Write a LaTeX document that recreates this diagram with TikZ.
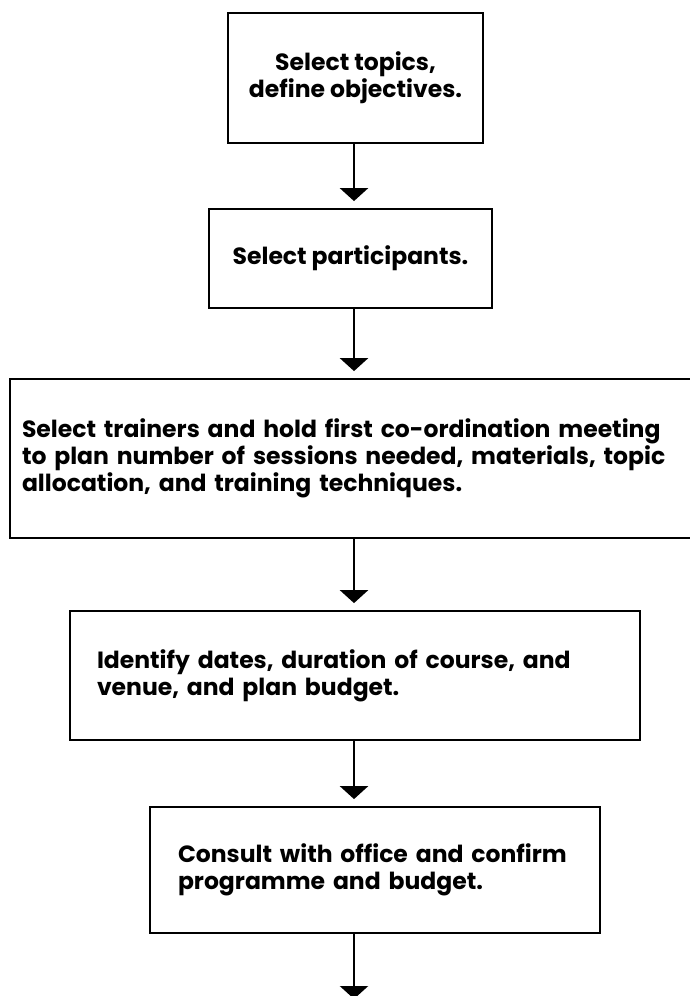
\documentclass[tikz,border=0pt]{standalone}
\usepackage{fontspec}
\setmainfont{Poppins}
\usetikzlibrary{positioning, arrows.meta}
\tikzset{>={Triangle[width=28pt,length=13pt]}, node distance=2cm}

\begin{document}
\begin{tikzpicture}[x=1pt, y=-1pt,
  stepbox/.style={rectangle, draw=black, line width=1.8pt, inner sep=0pt, font=\bfseries\fontsize{23.5}{27}\selectfont},
  flow/.style={->, line width=2.6pt, shorten >=7pt}]
    \useasboundingbox (0,0) rectangle (689,996);
    \coordinate (spine) at (354,0);

    \node[stepbox, minimum width=255pt, minimum height=130pt, align=center] (topics) at (355.5,78) {Select topics,\\define objectives.};
    \node[stepbox, minimum width=283pt, minimum height=99pt, align=center] (participants) at (350.5,258.5) {Select participants.};
    \node[stepbox, minimum width=695pt, minimum height=159pt, text width=671pt, align=left] (trainers) at (357.5,458.5) {Select trainers and hold first co-ordination meeting\\to plan number of sessions needed, materials, topic\\allocation, and training techniques.};
    \node[stepbox, minimum width=570pt, minimum height=129pt, text width=516pt, align=left] (dates) at (355,675.5) {Identify dates, duration of course, and\\venue, and plan budget.};
    \node[stepbox, minimum width=450pt, minimum height=126pt, text width=394pt, align=left] (consult) at (375,870) {Consult with office and confirm\\programme and budget.};
    \coordinate (end) at (354,999);

    \draw[flow] (topics.south -| spine) -- (participants.north -| spine);
    \draw[flow] (participants.south -| spine) -- (trainers.north -| spine);
    \draw[flow] (trainers.south -| spine) -- (dates.north -| spine);
    \draw[flow] (dates.south -| spine) -- (consult.north -| spine);
    \draw[flow, shorten >=0pt] (consult.south -| spine) -- (end);
\end{tikzpicture}
\end{document}
